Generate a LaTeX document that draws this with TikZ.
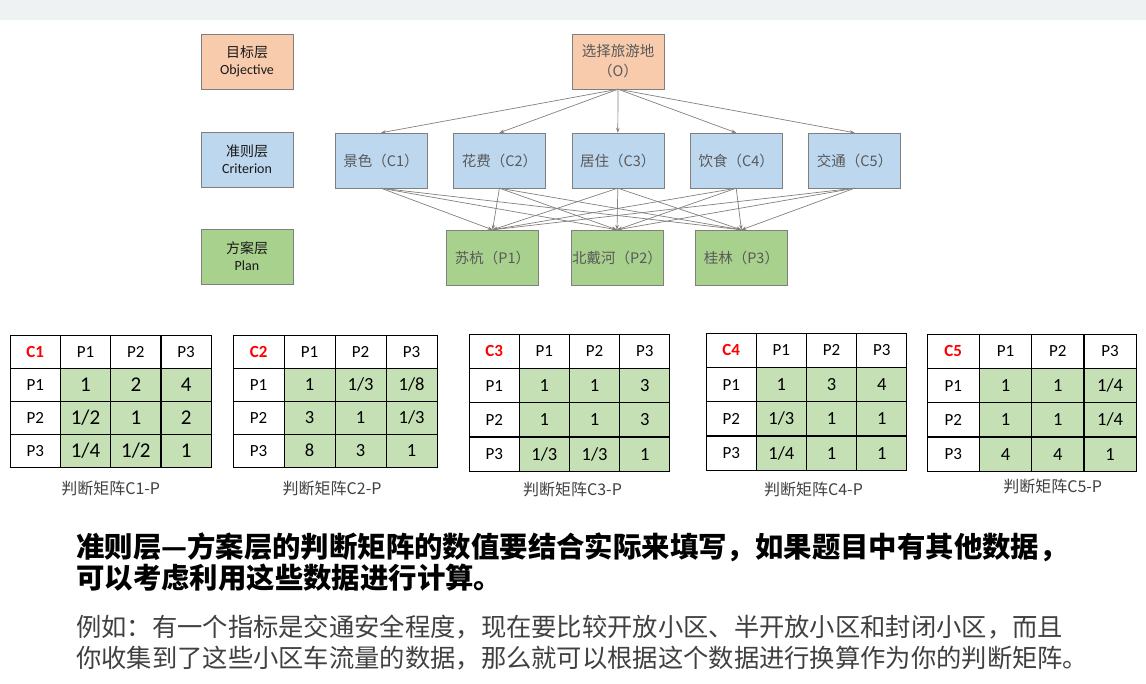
\documentclass[tikz,border=0pt]{standalone}
\usepackage{fontspec}
\setmainfont{Carlito}
\newfontfamily\cjk{Noto Sans CJK SC}
\usetikzlibrary{arrows.meta, positioning, matrix}

\definecolor{goalfill}{HTML}{F8CBAD}
\definecolor{critfill}{HTML}{BDD7EE}
\definecolor{planfill}{HTML}{A9D18E}
\definecolor{cellgreen}{HTML}{C5E0B4}
\definecolor{boxline}{HTML}{7F7F7F}
\definecolor{bandgray}{HTML}{EEF2F3}
\definecolor{textgray}{HTML}{404040}

\tikzset{
  layer/.style={draw=boxline, minimum width=92pt, minimum height=55pt,
                inner sep=0pt, align=center, text=black!90,
                font=\fontsize{14}{17}\selectfont},
  hbox/.style={layer, font=\cjk\fontsize{14.5}{20}\selectfont, text=black!65},
  link/.style={-{Stealth[length=5pt, width=3.5pt]}, draw=black!50, line width=0.7pt},
  judge/.style={matrix of nodes, anchor=north west, inner sep=0pt, line width=1.1pt,
                column sep=-\pgflinewidth, row sep=-\pgflinewidth,
                nodes={draw, inner sep=0pt, anchor=center, fill=cellgreen,
                       font=\fontsize{18.5}{18.5}\selectfont},
                column 1/.style={nodes={fill=white, font=\fontsize{17}{17}\selectfont}},
                row 1/.style={nodes={fill=white, font=\fontsize{17}{17}\selectfont}}},
  head/.style={text=red, font=\bfseries\fontsize{17}{17}\selectfont},
  caption/.style={font=\cjk\fontsize{16}{16}\selectfont, text=textgray, inner sep=0pt}
}

\begin{document}
\begin{tikzpicture}[x=1pt, y=-1pt]
  \useasboundingbox (0,0) rectangle (1146,684);
  \fill[bandgray] (0,0) rectangle (1146,20);

  % layer labels
  \node[layer, fill=goalfill] (lobj) at (247,61.5) {{\cjk 目标层}\\Objective};
  \node[layer, fill=critfill] (lcri) at (247,159.5) {{\cjk 准则层}\\Criterion};
  \node[layer, fill=planfill] (lplan) at (247,256.5) {{\cjk 方案层}\\Plan};

  % hierarchy
  \node[hbox, fill=goalfill] (goal) at (618,61.5) {选择旅游地\\（O）};
  \node[hbox, fill=critfill] (c1) at (381,160.5) {景色（C1）};
  \node[hbox, fill=critfill, right=26pt of c1] (c2) {花费（C2）};
  \node[hbox, fill=critfill, right=26pt of c2] (c3) {居住（C3）};
  \node[hbox, fill=critfill, right=26pt of c3] (c4) {饮食（C4）};
  \node[hbox, fill=critfill, right=26pt of c4] (c5) {交通（C5）};
  \node[hbox, fill=planfill] (p2) at (617,257.5) {北戴河（P2）};
  \node[hbox, fill=planfill, left=32pt of p2] (p1) {苏杭（P1）};
  \node[hbox, fill=planfill, right=32pt of p2] (p3) {桂林（P3）};

  \foreach \i in {1,...,5}
    \draw[link] (goal.south) -- (c\i.north);
  \foreach \i in {1,...,5}
    \foreach \j in {1,2,3}
      \draw[link] (c\i.south) -- (p\j.north);

  % judgement matrices
  \matrix[judge, nodes={minimum width=50.3pt, minimum height=33pt,
          font=\fontsize{21}{21}\selectfont}] (m1) at (9,334) {
    |[head]| C1 & P1 & P2 & P3 \\
    P1 & 1 & 2 & 4 \\
    P2 & 1/2 & 1 & 2 \\
    P3 & 1/4 & 1/2 & 1 \\
  };
  \matrix[judge, nodes={minimum width=51pt, minimum height=33pt}] (m2) at (232,334) {
    |[head]| C2 & P1 & P2 & P3 \\
    P1 & 1 & 1/3 & 1/8 \\
    P2 & 3 & 1 & 1/3 \\
    P3 & 8 & 3 & 1 \\
  };
  \matrix[judge, nodes={minimum width=50.2pt, minimum height=34.3pt}] (m3) at (468,333) {
    |[head]| C3 & P1 & P2 & P3 \\
    P1 & 1 & 1 & 3 \\
    P2 & 1 & 1 & 3 \\
    P3 & 1/3 & 1/3 & 1 \\
  };
  \matrix[judge, nodes={minimum width=50.2pt, minimum height=34.3pt}] (m4) at (705,332) {
    |[head]| C4 & P1 & P2 & P3 \\
    P1 & 1 & 3 & 4 \\
    P2 & 1/3 & 1 & 1 \\
    P3 & 1/4 & 1 & 1 \\
  };
  \matrix[judge, nodes={minimum width=52.3pt, minimum height=34.3pt}] (m5) at (926,333) {
    |[head]| C5 & P1 & P2 & P3 \\
    P1 & 1 & 1 & 1/4 \\
    P2 & 1 & 1 & 1/4 \\
    P3 & 4 & 4 & 1 \\
  };

  \node[caption, below=13pt of m1] (cap1) {判断矩阵C1-P};
  \node[caption, below=13pt of m2, xshift=-3pt] (cap2) {判断矩阵C2-P};
  \node[caption, below=9pt of m3, xshift=3pt] (cap3) {判断矩阵C3-P};
  \node[caption, below=10pt of m4, xshift=7pt] (cap4) {判断矩阵C4-P};
  \node[caption, below=6pt of m5, xshift=21pt] (cap5) {判断矩阵C5-P};

  % notes
  \node[anchor=base west, inner sep=0pt, font=\cjk\bfseries\fontsize{28.4}{33}\selectfont]
    (rule1) at (76,557.6) {准则层—方案层的判断矩阵的数值要结合实际来填写，如果题目中有其他数据，};
  \node[anchor=base west, inner sep=0pt, font=\cjk\bfseries\fontsize{28.4}{33}\selectfont]
    (rule2) at (76,588.6) {可以考虑利用这些数据进行计算。};
  \node[anchor=base west, inner sep=0pt, text=textgray, font=\cjk\fontsize{25.3}{30}\selectfont]
    (eg1) at (76,636) {例如：有一个指标是交通安全程度，现在要比较开放小区、半开放小区和封闭小区，而且};
  \node[anchor=base west, inner sep=0pt, text=textgray, font=\cjk\fontsize{25.3}{30}\selectfont]
    (eg2) at (76,667) {你收集到了这些小区车流量的数据，那么就可以根据这个数据进行换算作为你的判断矩阵。};
\end{tikzpicture}
\end{document}
